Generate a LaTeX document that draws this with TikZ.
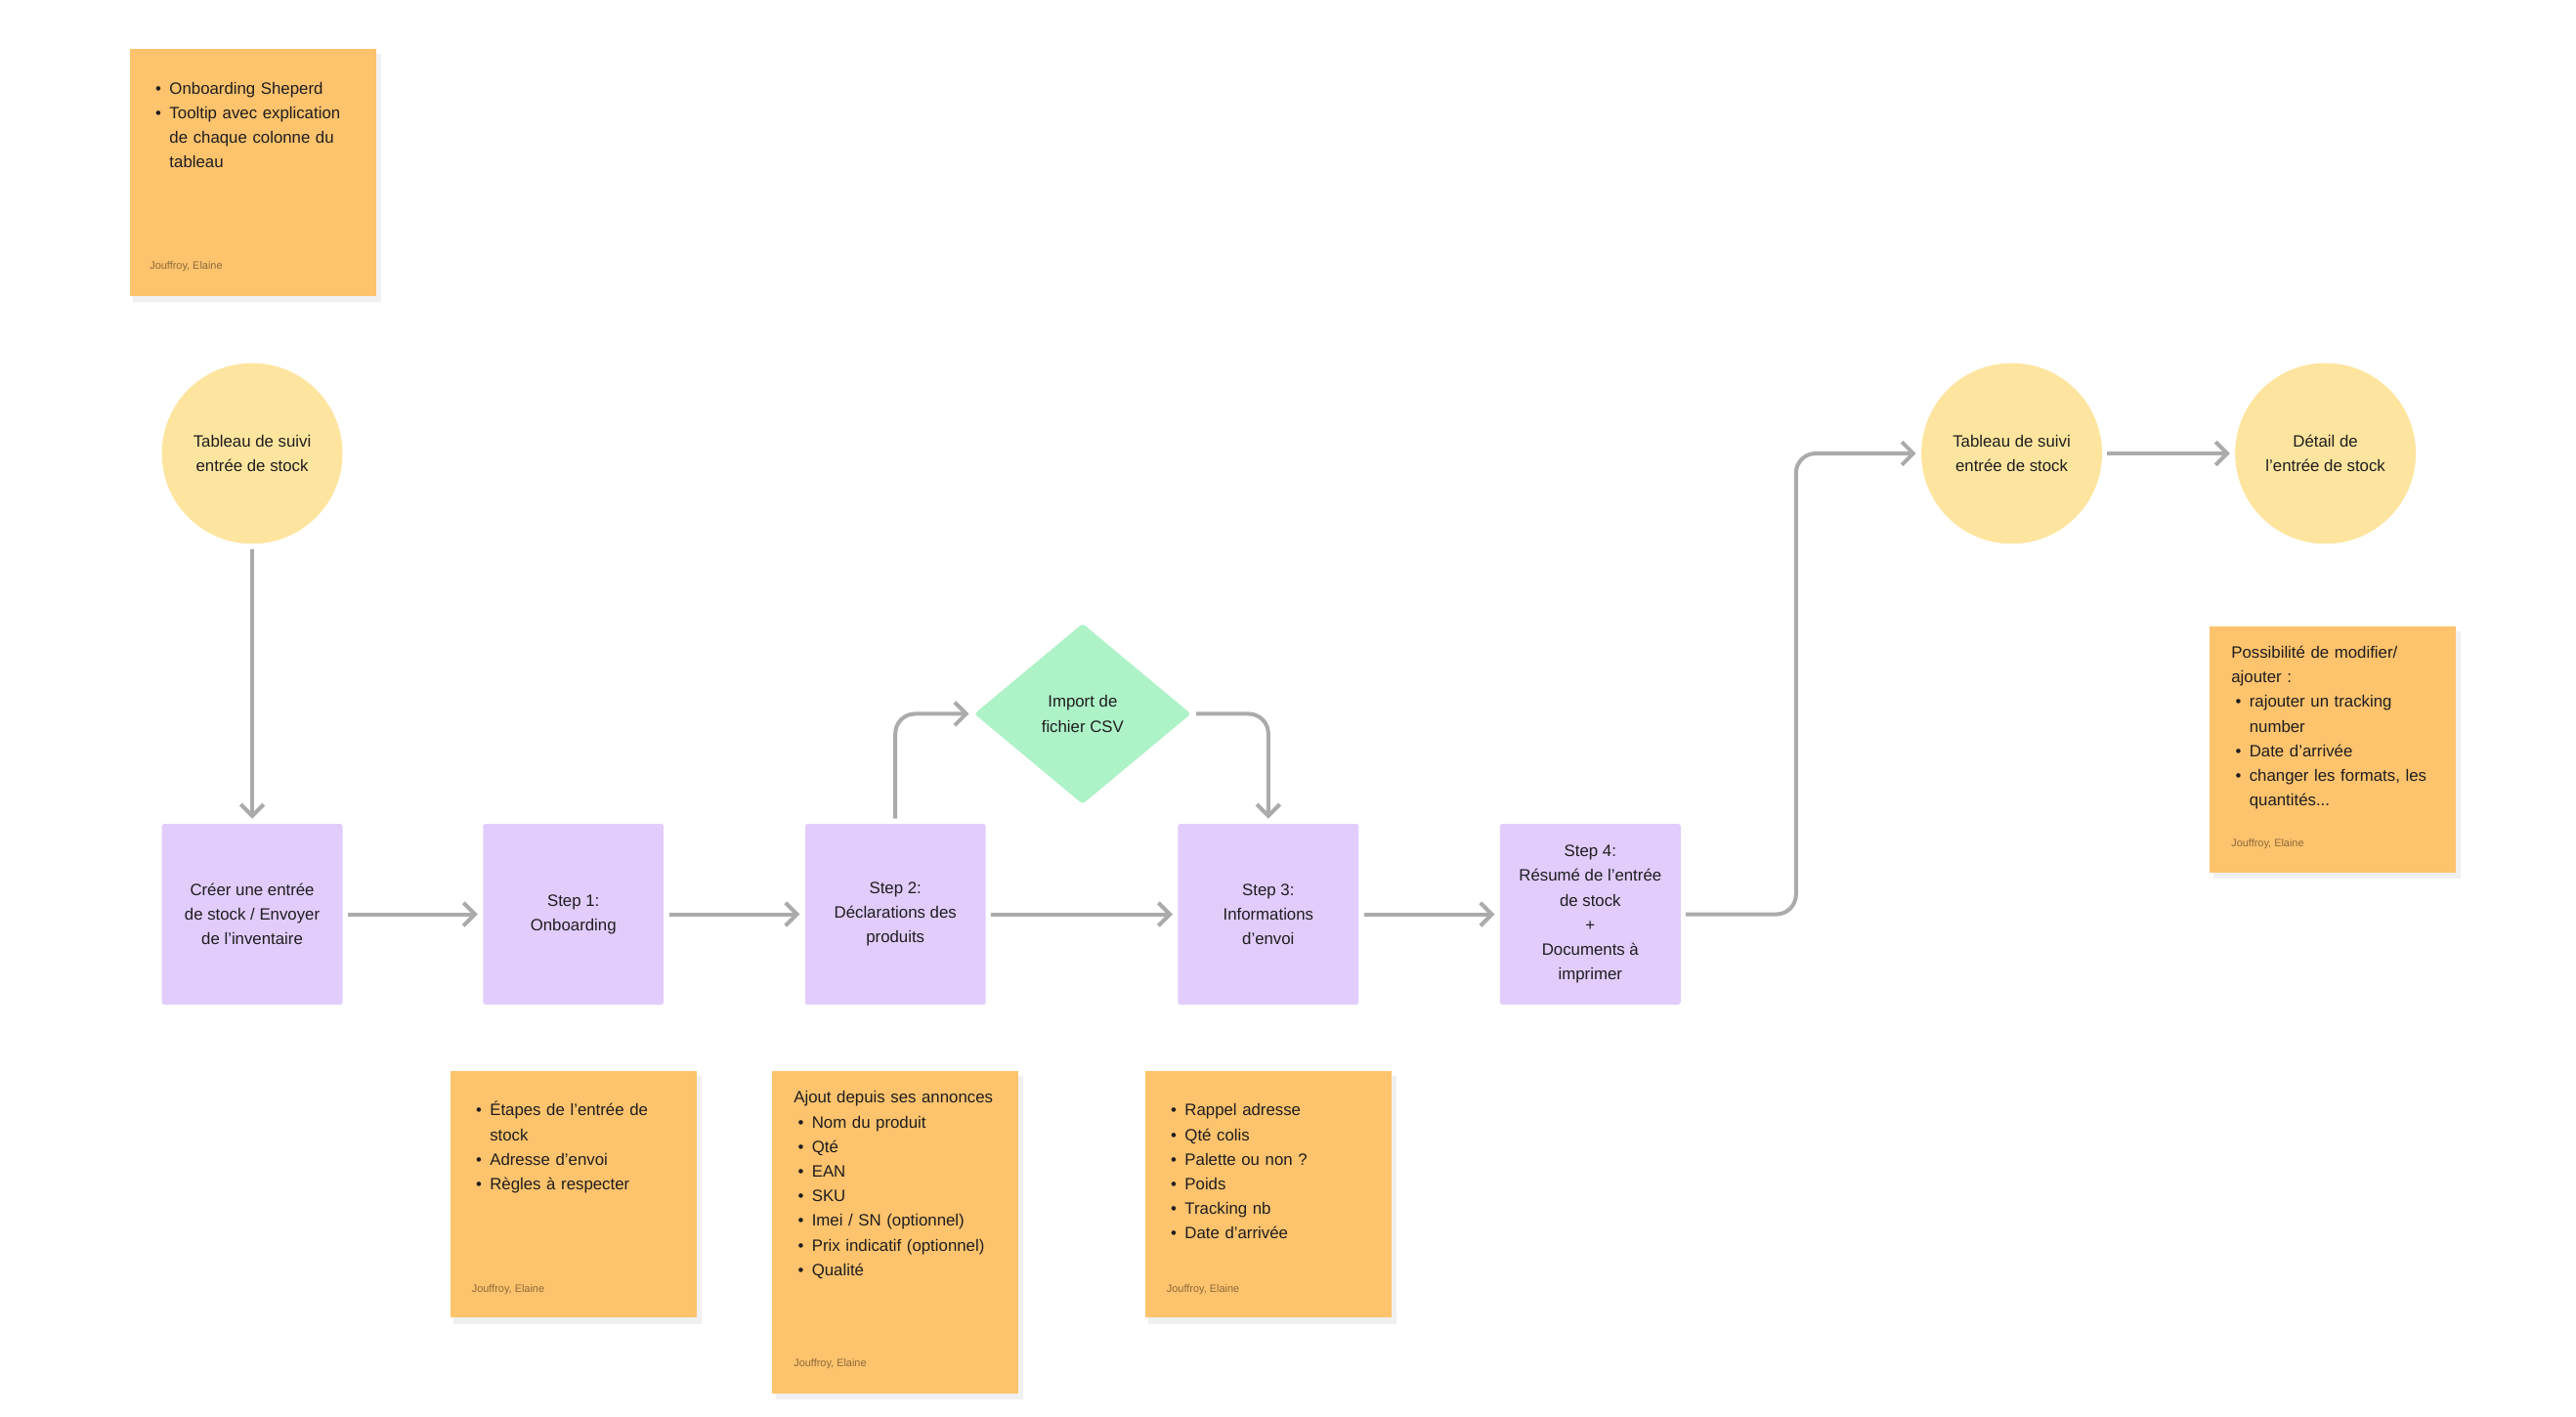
\documentclass[tikz,border=0pt]{standalone}
\usepackage{fontspec}
\setmainfont{Liberation Sans}
\usepackage{enumitem}
\usetikzlibrary{shapes.geometric,arrows.meta}
\definecolor{sticky}{HTML}{FEC36D}
\definecolor{circ}{HTML}{FEE59F}
\definecolor{lav}{HTML}{E2CCFC}
\definecolor{mint}{HTML}{AEF2C8}
\definecolor{arr}{HTML}{ABABAB}
\definecolor{txt}{HTML}{1E1E1E}
\definecolor{auth}{HTML}{8A6A3A}
\newcommand{\blist}[1]{\begin{itemize}[leftmargin=11pt,itemsep=0pt,topsep=0pt,parsep=0pt,partopsep=0pt,label=\textbullet]#1\end{itemize}}
\begin{document}
\begin{tikzpicture}[x=1pt,y=-1pt,
  every node/.style={text=txt,font=\fontsize{10}{15}\selectfont},
  circ/.style={circle,fill=circ,minimum size=110pt,inner sep=0pt,align=center},
  box/.style={rectangle,fill=lav,minimum width=110pt,minimum height=110pt,rounded corners=1.5pt,align=center,inner sep=0pt},
  dia/.style={diamond,fill=mint,minimum width=132pt,minimum height=110pt,aspect=1.2,rounded corners=2pt,align=center,inner sep=0pt},
  con/.style={draw=arr,line width=2.4pt,rounded corners=12pt,-{Straight Barb[length=7pt,width=14pt,line width=2.4pt]},shorten >=3pt,shorten <=3pt},
  stk/.style={fill=sticky},
  note/.style={anchor=north west,text width=125pt,align=left,inner sep=0pt},
  author/.style={anchor=west,inner sep=0pt,text=auth,font=\fontsize{6.5}{8}\selectfont}]
\useasboundingbox (0,0) rectangle (1568,862);
% stickies
\newcommand{\sticky}[4]{%
  \fill[black,opacity=0.06] (#1+2,#2+3) rectangle (#3+3,#4+4);
  \fill[stk] (#1,#2) rectangle (#3,#4);}
\sticky{79}{30}{229}{180}
\sticky{1345}{381}{1495}{531}
\sticky{274}{652}{424}{802}
\sticky{470}{652}{620}{848}
\sticky{697}{652}{847}{802}
\node[note] (n0) at (92,42) {\blist{\item Onboarding Sheperd \item Tooltip avec explication de chaque colonne du tableau}};
\node[author] (a0) at (91,162) {Jouffroy, Elaine};
\node[note] (n1) at (1358,393) {Possibilité de modifier/ ajouter :\blist{\item rajouter un tracking number \item Date d’arrivée \item changer les formats, les quantités...}};
\node[author] (a1) at (1358,514) {Jouffroy, Elaine};
\node[note] (n2) at (287,664) {\blist{\item Étapes de l’entrée de stock \item Adresse d’envoi \item Règles à respecter}};
\node[author] (a2) at (287,785) {Jouffroy, Elaine};
\node[note] (n3) at (483,664) {Ajout depuis ses annonces\blist{\item Nom du produit \item Qté \item EAN \item SKU \item Imei / SN (optionnel) \item Prix indicatif (optionnel) \item Qualité}};
\node[author] (a3) at (483,830) {Jouffroy, Elaine};
\node[note] (n4) at (710,664) {\blist{\item Rappel adresse \item Qté colis \item Palette ou non ? \item Poids \item Tracking nb \item Date d’arrivée}};
\node[author] (a4) at (710,785) {Jouffroy, Elaine};
% nodes
\node[circ] (c1) at (153.5,276) {Tableau de suivi\\entrée de stock};
\node[circ] (c2) at (1224.5,276) {Tableau de suivi\\entrée de stock};
\node[circ] (c3) at (1415.5,276) {Détail de\\l’entrée de stock};
\node[box] (b0) at (153.5,556.5) {Créer une entrée\\de stock / Envoyer\\de l’inventaire};
\node[box] (b1) at (349,556.5) {Step 1:\\Onboarding};
\node[box] (b2) at (545,556.5) {Step 2:\\Déclarations des\\produits};
\node[box] (b3) at (772,556.5) {Step 3:\\Informations\\d’envoi};
\node[box] (b4) at (968,556.5) {Step 4:\\Résumé de l’entrée\\de stock\\+\\Documents à\\imprimer};
\node[dia] (d) at (659,434.5) {Import de\\fichier CSV};
% connectors
\draw[con] (c1) -- (b0);
\draw[con] (b0) -- (b1);
\draw[con] (b1) -- (b2);
\draw[con] (b2) -- (b3);
\draw[con] (b3) -- (b4);
\draw[con] (b2.north) |- (d.west);
\draw[con] (d.east) -| (b3.north);
\draw[con] (b4.east) -- ++(70,0) |- (c2.west);
\draw[con] (c2) -- (c3);
\end{tikzpicture}
\end{document}
